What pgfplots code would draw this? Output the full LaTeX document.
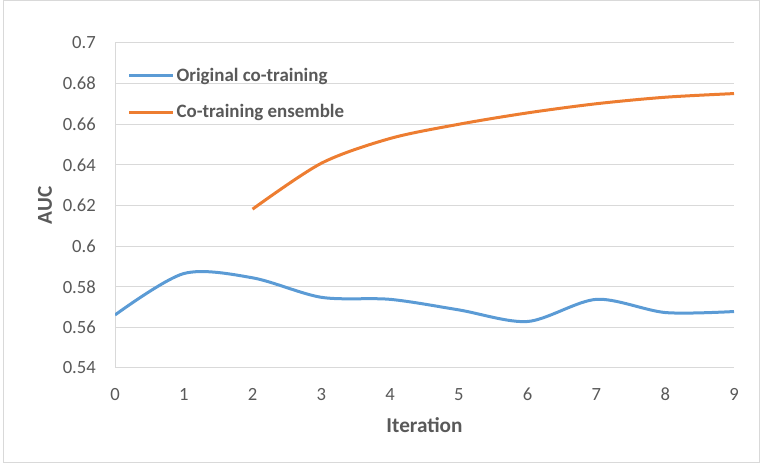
\documentclass[border=0pt]{standalone}
\usepackage{pgfplots}
\pgfplotsset{compat=1.18}
\usepackage{fontspec}
\setmainfont{Carlito}
\definecolor{txt}{HTML}{595959}
\definecolor{grd}{HTML}{D9D9D9}
\definecolor{bord}{HTML}{D9D9D9}
\definecolor{cblue}{HTML}{5B9BD5}
\definecolor{corange}{HTML}{ED7D31}
\begin{document}
\begin{tikzpicture}
\path[use as bounding box] (0,0) rectangle (761bp,463bp);
\draw[bord, line width=1bp] (3bp,0.5bp) rectangle (759.5bp,462bp);
\begin{axis}[
  at={(115bp,95bp)}, anchor=south west,
  scale only axis, width=619bp, height=325bp,
  xmin=0, xmax=9, ymin=0.54, ymax=0.7,
  xtick={0,1,...,9},
  ytick={0.54,0.56,0.58,0.6,0.62,0.64,0.66,0.68,0.7},
  yticklabels={0.54,0.56,0.58,0.6,0.62,0.64,0.66,0.68,0.7},
  axis x line*=bottom, axis y line*=left,
  axis line style={grd, line width=1bp, -},
  ymajorgrids, grid style={grd, line width=1bp},
  major tick length=0pt,
  tick label style={font=\fontsize{18.7}{22}\selectfont, text=txt, inner sep=0pt},
  yticklabel style={anchor=east, xshift=-19bp},
  xticklabel style={anchor=north, yshift=-20bp},
  /pgf/number format/assume math mode=true,
  xlabel={\textbf{Iteration}},
  ylabel={\textbf{AUC}},
  label style={font=\fontsize{21.3}{25}\selectfont, text=txt},
  xlabel style={at={(axis description cs:0.5,-0.175)}, anchor=center},
  ylabel style={at={(axis description cs:-0.113,0.5)}, anchor=center, rotate=0},
  legend style={at={(axis description cs:0.02,0.93)}, anchor=north west,
    draw=none, fill=none, font=\fontsize{19}{22}\selectfont\bfseries, text=txt,
    row sep=18bp, inner sep=0pt},
  legend cell align=left,
  legend image code/.code={\draw[#1] (0bp,0bp) -- (44bp,0bp);},
]
\addplot[cblue, line width=3bp, smooth, tension=0.5] coordinates {
  (0,0.5661) (1,0.5865) (2,0.5844) (3,0.5748) (4,0.5738) (5,0.5686)
  (6,0.5629) (7,0.5738) (8,0.5673) (9,0.5678)
};
\addlegendentry{Original co-training}
\addplot[corange, line width=3bp, smooth, tension=0.5] coordinates {
  (2,0.6182) (3,0.6408) (4,0.6530) (5,0.6600) (6,0.6656) (7,0.6701)
  (8,0.6733) (9,0.6751)
};
\addlegendentry{Co-training ensemble}
\end{axis}
\end{tikzpicture}
\end{document}
